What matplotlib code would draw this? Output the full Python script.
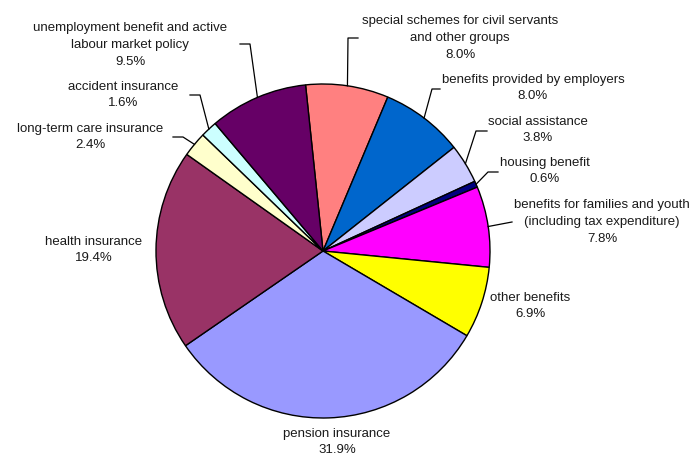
import numpy as np
import matplotlib
matplotlib.use('Agg')
import matplotlib.pyplot as plt

plt.rcParams['font.family'] = ['Liberation Sans', 'DejaVu Sans']

# shares of social budget, clockwise from the top
categories = ['special schemes for civil servants\nand other groups',
              'benefits provided by employers',
              'social assistance',
              'housing benefit',
              'benefits for families and youth\n(including tax expenditure)',
              'other benefits',
              'pension insurance',
              'health insurance',
              'long-term care insurance',
              'accident insurance',
              'unemployment benefit and active\nlabour market policy']
shares = [8.0, 8.0, 3.8, 0.6, 7.8, 6.9, 31.9, 19.4, 2.4, 1.6, 9.5]
colors = ['#FF8080', '#0066CC', '#CCCCFF', '#000080', '#FF00FF', '#FFFF00',
          '#9999FF', '#993366', '#FFFFCC', '#CCFFFF', '#660066']

# label block centres (pixels from top-left)
label_pos = [(460, 38), (533, 88), (538, 130), (545, 171), (602, 222),
             (530, 306), (337, 442), (94, 250), (90, 137), (123, 95), (130, 45)]
# leader elbows: (x at text, x at bend, y); None = no leader
leaders = [(358, 348, 38), (440, 432, 89), (487, 476, 131), (498, 488, 172),
           (512, 512, 222), None, None, None, (173, 183, 137), (190, 200, 95),
           (240, 250, 44)]

W, H = 692, 457
cx, cy, r = 323, 251, 167
start = 96

fig = plt.figure(figsize=(W / 100, H / 100), dpi=100)
ax = fig.add_axes([0, 0, 1, 1])

ax.pie(shares, colors=colors, startangle=start, counterclock=False,
       center=(cx, H - cy), radius=r,
       wedgeprops=dict(edgecolor='black', linewidth=1.0))
ax.set_xlim(0, W)
ax.set_ylim(0, H)
ax.set_aspect('equal')
ax.axis('off')

total = sum(shares)
angle = start
for name, val, pos, ld in zip(categories, shares, label_pos, leaders):
    span = 360 * val / total
    mid = np.deg2rad(angle - span / 2)
    angle -= span
    ax.text(pos[0], H - pos[1], '{}\n{:.1f}%'.format(name, val),
            ha='center', va='center', multialignment='center',
            fontsize=9.5, linespacing=1.55, color='#1a1a1a')
    if ld is not None:
        ex = cx + r * np.cos(mid)
        ey = H - (cy - r * np.sin(mid))
        ax.plot([ld[0], ld[1], ex], [H - ld[2], H - ld[2], ey],
                color='black', linewidth=0.9)

fig.savefig('out.png', dpi=100)
